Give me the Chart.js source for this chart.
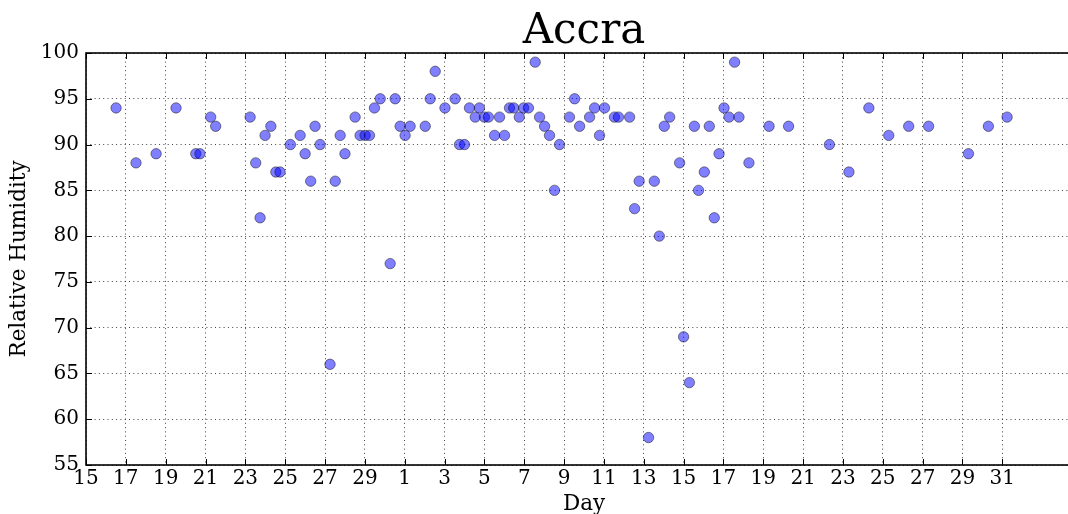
<!DOCTYPE html>
<html>
<head>
<meta charset="utf-8">
<title>Accra</title>
<script src="https://cdn.jsdelivr.net/npm/chart.js@4.4.1/dist/chart.umd.min.js"></script>
<style>
	html, body { margin: 0; padding: 0; background: #fff; overflow: hidden; }
	#wrap { width: 1090px; height: 514px; }
</style>
</head>
<body>
<div id="wrap"><canvas id="humidityChart" width="1090" height="514"></canvas></div>
<script>
// days counted from the 15th (first tick)
const dayOffsets = [
	1.51, 2.51, 3.52, 4.52, 5.51, 5.72, 6.26, 6.51, 8.24, 8.52,
	8.74, 8.99, 9.28, 9.53, 9.74, 10.26, 10.75, 11.0, 11.28, 11.5,
	11.75, 12.25, 12.51, 12.76, 13.0, 13.51, 13.76, 14.01, 14.23, 14.48,
	14.77, 15.27, 15.52, 15.77, 16.02, 16.27, 17.03, 17.28, 17.53, 18.02,
	18.53, 18.75, 19.0, 19.25, 19.54, 19.75, 20.0, 20.2, 20.51, 20.76,
	21.01, 21.26, 21.47, 21.75, 21.97, 22.21, 22.55, 22.77, 23.02, 23.27,
	23.52, 23.77, 24.27, 24.53, 24.78, 25.28, 25.53, 25.78, 26.03, 26.53,
	26.73, 27.29, 27.54, 27.77, 28.24, 28.53, 28.78, 29.03, 29.3, 29.8,
	30.0, 30.29, 30.54, 30.75, 31.04, 31.29, 31.54, 31.78, 32.03, 32.28,
	32.56, 32.78, 33.28, 34.29, 35.27, 37.32, 38.3, 39.3, 40.3, 41.3,
	42.3, 44.3, 45.3, 46.24
];
const humidity = [
	94, 88, 89, 94, 89, 89, 93, 92, 93, 88,
	82, 91, 92, 87, 87, 90, 91, 89, 86, 92,
	90, 66, 86, 91, 89, 93, 91, 91, 91, 94,
	95, 77, 95, 92, 91, 92, 92, 95, 98, 94,
	95, 90, 90, 94, 93, 94, 93, 93, 91, 93,
	91, 94, 94, 93, 94, 94, 99, 93, 92, 91,
	85, 90, 93, 95, 92, 93, 94, 91, 94, 93,
	93, 93, 83, 86, 58, 86, 80, 92, 93, 88,
	69, 64, 92, 85, 87, 92, 82, 89, 94, 93,
	99, 93, 88, 92, 92, 90, 87, 94, 91, 92,
	92, 89, 92, 93
];
const dayTickLabels = ['15', '17', '19', '21', '23', '25', '27', '29', '1', '3', '5', '7',
	'9', '11', '13', '15', '17', '19', '21', '23', '25', '27', '29', '31'];
const humidityTicks = [55, 60, 65, 70, 75, 80, 85, 90, 95, 100];

const serif = 'DejaVu Serif';

// matplotlib-style frame and inward tick marks
const framePlugin = {
	id: 'frame',
	afterDraw(chart) {
		const { ctx, chartArea: a, scales } = chart;
		ctx.save();
		ctx.strokeStyle = '#000';
		ctx.lineWidth = 1;
		ctx.beginPath();
		scales.x.ticks.forEach(t => {
			const px = Math.round(scales.x.getPixelForValue(t.value)) + 0.5;
			ctx.moveTo(px, a.bottom); ctx.lineTo(px, a.bottom - 6);
			ctx.moveTo(px, a.top); ctx.lineTo(px, a.top + 6);
		});
		scales.y.ticks.forEach(t => {
			const py = Math.round(scales.y.getPixelForValue(t.value)) + 0.5;
			ctx.moveTo(a.left, py); ctx.lineTo(a.left + 6, py);
		});
		ctx.stroke();
		ctx.lineWidth = 1.6;
		ctx.strokeRect(a.left, a.top, a.right - a.left, a.bottom - a.top);
		ctx.restore();
	}
};

const ctx = document.getElementById('humidityChart').getContext('2d');
new Chart(ctx, {
	type: 'scatter',
	data: {
		datasets: [{
			label: 'Relative Humidity',
			data: dayOffsets.map((d, i) => ({ x: d, y: humidity[i] })),
			backgroundColor: 'rgba(0, 0, 255, 0.5)',
			borderColor: 'rgba(0, 0, 0, 0.45)',
			borderWidth: 1,
			pointRadius: 5.2,
			pointHoverRadius: 5.2
		}]
	},
	options: {
		responsive: false,
		animation: false,
		events: [],
		layout: { padding: { left: 0, right: 8, top: 0, bottom: 0 } },
		plugins: {
			legend: { display: false },
			tooltip: { enabled: false },
			title: {
				display: true,
				text: 'Accra',
				fullSize: false,
				color: '#000',
				font: { family: serif, size: 42, weight: 'normal', lineHeight: 1 },
				padding: { top: 11, bottom: 0 }
			}
		},
		scales: {
			x: {
				type: 'linear',
				min: 0,
				max: 50,
				afterBuildTicks: scale => {
					scale.ticks = dayTickLabels.map((_, i) => ({ value: i * 2 }));
				},
				afterFit: scale => { scale.height = 49; },
				ticks: {
					color: '#000',
					padding: 3,
					maxRotation: 0,
					autoSkip: false,
					font: { family: serif, size: 20, lineHeight: 1.1 },
					callback: value => dayTickLabels[value / 2]
				},
				grid: {
					color: 'rgba(0, 0, 0, 0.75)',
					lineWidth: 1,
					drawTicks: false
				},
				border: { display: false, dash: [1, 3.3] },
				title: {
					display: true,
					text: 'Day',
					color: '#000',
					font: { family: serif, size: 21.5, lineHeight: 1 },
					padding: { top: 0, bottom: -1 }
				}
			},
			y: {
				min: 55,
				max: 100,
				afterBuildTicks: scale => {
					scale.ticks = humidityTicks.map(v => ({ value: v }));
				},
				afterFit: scale => { scale.width = 86; },
				ticks: {
					color: '#000',
					padding: 7,
					font: { family: serif, size: 20 }
				},
				grid: {
					color: 'rgba(0, 0, 0, 0.75)',
					lineWidth: 1,
					drawTicks: false
				},
				border: { display: false, dash: [1, 3.3] },
				title: {
					display: true,
					text: 'Relative Humidity',
					color: '#000',
					font: { family: serif, size: 21.5, lineHeight: 1 },
					padding: { top: 9, bottom: 0 }
				}
			}
		}
	},
	plugins: [framePlugin]
});
</script>
</body>
</html>
